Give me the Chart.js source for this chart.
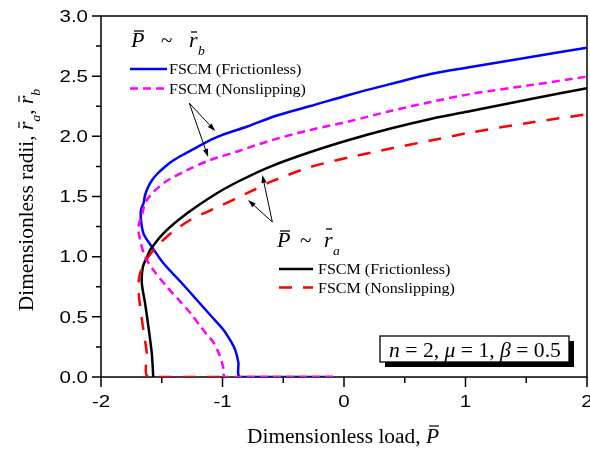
<!DOCTYPE html>
<html>
<head>
<meta charset="utf-8">
<title>Dimensionless radii vs load</title>
<script src="https://cdn.jsdelivr.net/npm/chart.js@4.4.1/dist/chart.umd.min.js"></script>
<style>
  html, body { margin: 0; padding: 0; background: #fff; }
  #wrap { width: 590px; height: 452px; }
</style>
</head>
<body>
<div id="wrap"><canvas id="c" width="590" height="452"></canvas></div>
<script>
// r_b, frictionless (blue solid)
const rbFricP = [-0.09, -0.854, -0.870, -0.895, -0.928, -0.991, -1.101, -1.211, -1.334, -1.486, -1.582, -1.651, -1.673, -1.668, -1.65,
  -1.637, -1.612, -1.579, -1.538, -1.480, -1.406, -1.307, -1.208, -1.043, -0.796, -0.565, -0.276, 0.054, 0.384, 0.713, 1.043, 1.538, 2.0];
const rbFricR = [0, 0, 0.125, 0.224, 0.291, 0.391, 0.515, 0.640, 0.779, 0.945, 1.083, 1.194, 1.332, 1.40, 1.443,
  1.513, 1.579, 1.637, 1.687, 1.741, 1.799, 1.857, 1.911, 1.995, 2.082, 2.169, 2.252, 2.348, 2.435, 2.518, 2.576, 2.659, 2.737];

// r_b, nonslipping (magenta dash)
const rbSlipP = [-0.09, -0.981, -0.990, -1.006, -1.035, -1.074, -1.126, -1.184, -1.258, -1.348, -1.458, -1.569, -1.637, -1.678, -1.692, -1.66, -1.623,
  -1.489, -1.291, -1.101, -0.878, -0.606, -0.276, 0.054, 0.384, 0.713, 1.043, 1.538, 2.0];
const rbSlipR = [0, 0, 0.058, 0.125, 0.208, 0.287, 0.349, 0.424, 0.524, 0.627, 0.750, 0.889, 1.0, 1.139, 1.249, 1.36, 1.471,
  1.608, 1.720, 1.803, 1.874, 1.965, 2.053, 2.127, 2.211, 2.285, 2.352, 2.426, 2.496];

// r_a, frictionless (black solid)
const raFricP = [-1.57, -1.582, -1.61, -1.637, -1.664, -1.655, -1.62, -1.596, -1.486,
  -1.291, -1.046, -0.854, -0.606, -0.276, 0.054, 0.384, 0.713, 1.043, 1.538, 2.0];
const raFricR = [0, 0.197, 0.418, 0.612, 0.78, 0.917, 1.0, 1.055, 1.194,
  1.36, 1.527, 1.633, 1.749, 1.870, 1.974, 2.065, 2.144, 2.211, 2.31, 2.40];

// r_a, nonslipping (red dash)
const raSlipP = [-1.02, -1.61, -1.623, -1.651, -1.678, -1.692, -1.678, -1.61, -1.458,
  -1.266, -1.019, -0.812, -0.606, -0.276, 0.054, 0.384, 0.713, 1.043, 1.538, 2.0];
const raSlipR = [0, 0, 0.197, 0.39, 0.584, 0.75, 0.862, 1.0, 1.166,
  1.305, 1.421, 1.521, 1.621, 1.745, 1.828, 1.899, 1.965, 2.032, 2.115, 2.183];

const xTickLabels = ['-2', '-1', '0', '1', '2'];
const yTickLabels = ['0.0', '0.5', '1.0', '1.5', '2.0', '2.5', '3.0'];

const legendText = ['FSCM (Frictionless)', 'FSCM (Nonslipping)'];
const boxText = [['n', true], [' = 2, ', false], ['\u03bc', true], [' = 1, ', false], ['\u03b2', true], [' = 0.5', false]];

const SERIF = '"Liberation Serif", "Times New Roman", serif';
const SANS = '"Liberation Sans", Arial, sans-serif';

function pts(P, R) {
  return P.map((p, i) => ({ x: p, y: R[i] }));
}

// draw a string squeezed/stretched horizontally, returns drawn width
function sText(ctx, str, x, y, font, sx) {
  ctx.save();
  ctx.font = font;
  const w = ctx.measureText(str).width * sx;
  ctx.translate(x, y);
  ctx.scale(sx, 1);
  ctx.fillText(str, 0, 0);
  ctx.restore();
  return w;
}

// runs of text: {t, f, dy, bar}
function runs(ctx, parts, x, y, sx, align) {
  let total = 0;
  parts.forEach(p => { ctx.font = p.f; total += ctx.measureText(p.t).width * sx; });
  let cx = align === 'center' ? x - total / 2 : x;
  parts.forEach(p => {
    const w = sText(ctx, p.t, cx, y + (p.dy || 0), p.f, sx);
    if (p.bar) {
      ctx.save();
      ctx.lineWidth = 1.2;
      ctx.beginPath();
      ctx.moveTo(cx + w * 0.25, y - p.bar);
      ctx.lineTo(cx + w * 1.0, y - p.bar);
      ctx.stroke();
      ctx.restore();
    }
    cx += w;
  });
}

function arrow(ctx, x0, y0, x1, y1) {
  const a = Math.atan2(y1 - y0, x1 - x0);
  const len = 8, hw = 2.6;
  ctx.beginPath();
  ctx.moveTo(x0, y0);
  ctx.lineTo(x1 - Math.cos(a) * len * 0.8, y1 - Math.sin(a) * len * 0.8);
  ctx.stroke();
  ctx.beginPath();
  ctx.moveTo(x1, y1);
  ctx.lineTo(x1 - Math.cos(a) * len - Math.sin(a) * hw, y1 - Math.sin(a) * len + Math.cos(a) * hw);
  ctx.lineTo(x1 - Math.cos(a) * len + Math.sin(a) * hw, y1 - Math.sin(a) * len - Math.cos(a) * hw);
  ctx.closePath();
  ctx.fill();
}

function bar(ctx, x0, x1, yy) {
  ctx.save();
  ctx.lineWidth = 1.3;
  ctx.beginPath();
  ctx.moveTo(x0, yy); ctx.lineTo(x1, yy);
  ctx.stroke();
  ctx.restore();
}

function legendLine(ctx, x0, x1, yy, color, dash) {
  ctx.save();
  ctx.strokeStyle = color;
  ctx.lineWidth = 2.5;
  ctx.setLineDash(dash);
  ctx.beginPath();
  ctx.moveTo(x0, yy); ctx.lineTo(x1, yy);
  ctx.stroke();
  ctx.restore();
}

const frame = {
  id: 'frame',
  beforeDatasetsDraw(chart) {
    const { ctx, chartArea: a, scales: { x, y } } = chart;
    ctx.save();
    ctx.strokeStyle = '#000';
    ctx.fillStyle = '#000';
    ctx.lineWidth = 1.5;
    ctx.strokeRect(a.left, a.top, a.right - a.left, a.bottom - a.top);

    // x ticks, major + minor
    const xv = x.ticks.map(t => t.value);
    ctx.beginPath();
    xv.forEach((v, i) => {
      const px = x.getPixelForValue(v);
      ctx.moveTo(px, a.bottom); ctx.lineTo(px, a.bottom + 10);
      if (i < xv.length - 1) {
        const m = x.getPixelForValue((v + xv[i + 1]) / 2);
        ctx.moveTo(m, a.bottom); ctx.lineTo(m, a.bottom + 6);
      }
    });
    const yv = y.ticks.map(t => t.value);
    yv.forEach((v, i) => {
      const py = y.getPixelForValue(v);
      ctx.moveTo(a.left, py); ctx.lineTo(a.left - 9, py);
      if (i < yv.length - 1) {
        const m = y.getPixelForValue((v + yv[i + 1]) / 2);
        ctx.moveTo(a.left, m); ctx.lineTo(a.left - 5, m);
      }
    });
    ctx.stroke();

    // tick labels
    const tf = '16px ' + SANS;
    ctx.textBaseline = 'alphabetic';
    ctx.font = tf;
    xv.forEach((v, i) => {
      const s = xTickLabels[i];
      const w = ctx.measureText(s).width * 1.28;
      sText(ctx, s, x.getPixelForValue(v) - w / 2, a.bottom + 30, tf, 1.28);
      ctx.font = tf;
    });
    yv.forEach((v, i) => {
      const s = yTickLabels[i];
      const w = ctx.measureText(s).width * 1.28;
      sText(ctx, s, a.left - 13 - w, y.getPixelForValue(v) + 5.8, tf, 1.28);
      ctx.font = tf;
    });

    // axis titles
    const f20 = '20px ' + SERIF, i20 = 'italic 20px ' + SERIF, i13 = 'italic 13px ' + SERIF;
    runs(ctx, [
      { t: 'Dimensionless load, ', f: f20 },
      { t: 'P', f: i20, bar: 17 }
    ], (a.left + a.right) / 2 - 1, 443, 1.07, 'center');

    ctx.save();
    ctx.translate(33, 200);
    ctx.rotate(-Math.PI / 2);
    runs(ctx, [
      { t: 'Dimensionless radii, ', f: f20 },
      { t: 'r', f: i20, bar: 14 },
      { t: 'a', f: i13, dy: 7 },
      { t: ', ', f: f20 },
      { t: 'r', f: i20, bar: 14 },
      { t: 'b', f: i13, dy: 7 }
    ], 0, 0, 1.07, 'center');
    ctx.restore();
    ctx.restore();
  },

  afterDraw(chart) {
    const { ctx, scales: { x, y } } = chart;
    ctx.save();
    ctx.fillStyle = '#000';
    ctx.strokeStyle = '#000';
    ctx.textBaseline = 'alphabetic';
    const i21 = 'italic 21px ' + SERIF, f21 = '21px ' + SERIF, i13 = 'italic 13px ' + SERIF;
    const f15 = '15px ' + SERIF;

    // group label for r_b
    sText(ctx, 'P', 131, 47, i21, 1.05);
    bar(ctx, 134, 144, 31);
    sText(ctx, '~', 161, 47, f21, 1.0);
    sText(ctx, 'r', 189, 47, i21, 1.05);
    bar(ctx, 191, 197, 32);
    sText(ctx, 'b', 198, 55, i13, 1.05);

    // legend for r_b
    legendLine(ctx, 130, 167, 69, '#0000ff', []);
    sText(ctx, legendText[0], 169, 74, f15, 1.07);
    legendLine(ctx, 130, 167, 88.5, '#ff00ff', [8, 5]);
    sText(ctx, legendText[1], 169, 93.5, f15, 1.07);

    // group label for r_a
    sText(ctx, 'P', 277, 247, i21, 1.05);
    bar(ctx, 280, 290, 231);
    sText(ctx, '~', 300, 247, f21, 1.0);
    sText(ctx, 'r', 324, 247, i21, 1.05);
    bar(ctx, 326, 332, 229);
    sText(ctx, 'a', 333, 255, i13, 1.05);

    // legend for r_a
    legendLine(ctx, 279, 313, 269, '#000000', []);
    sText(ctx, legendText[0], 318, 274, f15, 1.07);
    legendLine(ctx, 279, 313, 287.5, '#ff0000', [13, 11]);
    sText(ctx, legendText[1], 318, 292.5, f15, 1.07);

    // pointer arrows onto the curves
    ctx.lineWidth = 1;
    const px = v => x.getPixelForValue(v), py = v => y.getPixelForValue(v);
    arrow(ctx, px(-1.274), py(2.277), px(-1.06), py(2.044));
    arrow(ctx, px(-1.274), py(2.277), px(-1.118), py(1.828));
    arrow(ctx, px(-0.59), py(1.288), px(-0.672), py(1.679));
    arrow(ctx, px(-0.59), py(1.288), px(-0.79), py(1.471));

    // parameter box with drop shadow
    ctx.fillRect(385, 341, 189, 26);
    ctx.fillStyle = '#fff';
    ctx.fillRect(380, 336, 189, 26);
    ctx.lineWidth = 1.3;
    ctx.strokeRect(380, 336, 189, 26);
    ctx.fillStyle = '#000';
    runs(ctx, boxText.map(b => ({ t: b[0], f: (b[1] ? 'italic ' : '') + '21px ' + SERIF })), 475, 357, 1.03, 'center');
    ctx.restore();
  }
};

const line = (data, color, dash) => ({
  data,
  showLine: true,
  borderColor: color,
  backgroundColor: color,
  borderWidth: 2.5,
  borderDash: dash,
  pointRadius: 0,
  tension: 0.3,
  fill: false
});

new Chart(document.getElementById('c'), {
  type: 'scatter',
  data: {
    datasets: [
      line(pts(raSlipP, raSlipR), '#ff0000', [13, 11]),
      line(pts(rbSlipP, rbSlipR), '#ff00ff', [8, 5]),
      line(pts(raFricP, raFricR), '#000000', []),
      line(pts(rbFricP, rbFricR), '#0000ff', [])
    ]
  },
  options: {
    responsive: false,
    animation: false,
    devicePixelRatio: 1,
    layout: { padding: { left: 0, right: 3, top: 16, bottom: 0 } },
    plugins: { legend: { display: false }, tooltip: { enabled: false } },
    scales: {
      x: {
        type: 'linear', min: -2, max: 2,
        ticks: { stepSize: 1, display: false },
        grid: { display: false }, border: { display: false },
        afterFit: s => { s.height = 75; }
      },
      y: {
        type: 'linear', min: 0, max: 3,
        ticks: { stepSize: 0.5, display: false },
        grid: { display: false }, border: { display: false },
        afterFit: s => { s.width = 101; }
      }
    }
  },
  plugins: [frame]
});
</script>
</body>
</html>
